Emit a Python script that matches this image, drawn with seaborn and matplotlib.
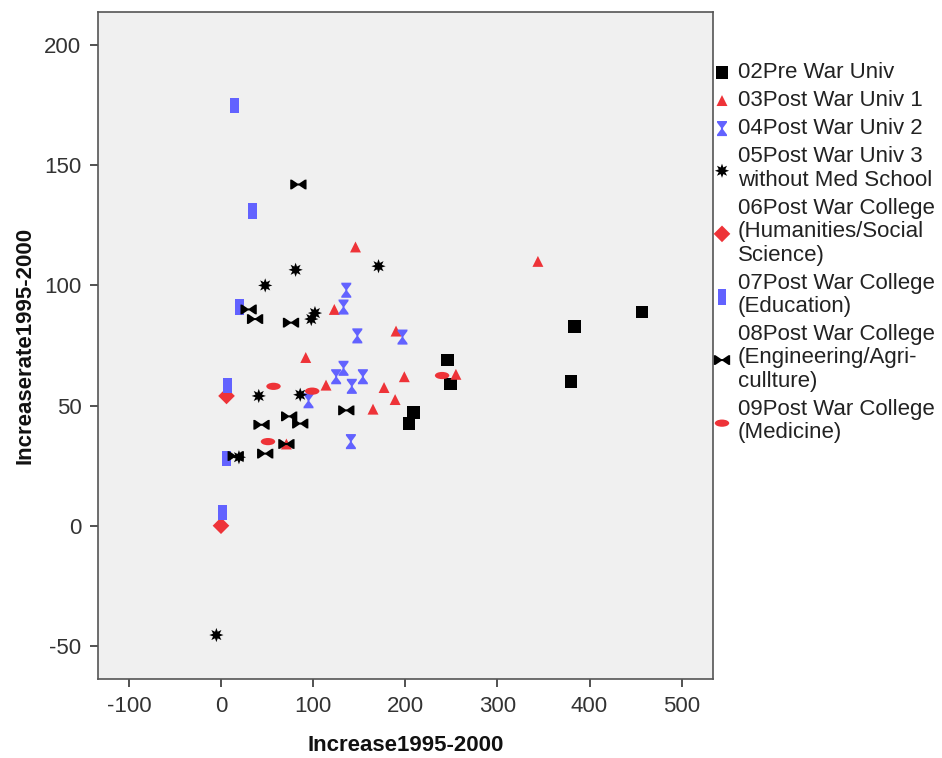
import numpy as np
import pandas as pd
import matplotlib
matplotlib.use("Agg")
import matplotlib.pyplot as plt
import seaborn as sns
from matplotlib.path import Path
from matplotlib.transforms import Affine2D

# ---------------- data ----------------
pre_war_x = [457, 384, 246, 249, 380, 209, 204]
pre_war_y = [89, 83, 69, 59, 60, 47, 42.5]

pw1_x = [344, 146, 123, 190, 92, 199, 177, 189, 114, 165, 255, 71]
pw1_y = [110, 116, 90, 81, 70, 62, 57.5, 52.5, 58.5, 48.5, 63, 34]

pw2_x = [136, 133, 148, 197, 133, 125, 154, 142, 95, 141]
pw2_y = [98, 91, 79, 78.5, 65.5, 62, 62, 58, 52, 35]

pw3_x = [171, 81, 48, 102, 98, 41, 86, 19.5, -5]
pw3_y = [108, 106.5, 100, 88.5, 86, 54, 54.5, 28.5, -45.5]

col_hum_x = [6, 0]
col_hum_y = [54, 0]

col_edu_x = [14.5, 34, 20, 7, 6, 1.5]
col_edu_y = [175, 131, 91, 58.5, 28, 5.5]

col_eng_x = [84, 30, 37, 76, 136, 74, 86, 44, 48, 16, 71]
col_eng_y = [142, 90, 86, 84.5, 48, 45.5, 42.5, 42, 30, 29, 34]

col_med_x = [57, 99, 51, 240]
col_med_y = [58, 56, 35, 62.5]

labels = [
    "02Pre War Univ",
    "03Post War Univ 1",
    "04Post War Univ 2",
    "05Post War Univ 3\nwithout Med School",
    "06Post War College\n(Humanities/Social\nScience)",
    "07Post War College\n(Education)",
    "08Post War College\n(Engineering/Agri-\ncullture)",
    "09Post War College\n(Medicine)",
]
xs = [pre_war_x, pw1_x, pw2_x, pw3_x, col_hum_x, col_edu_x, col_eng_x, col_med_x]
ys = [pre_war_y, pw1_y, pw2_y, pw3_y, col_hum_y, col_edu_y, col_eng_y, col_med_y]

x_ticks = [-100, 0, 100, 200, 300, 400, 500]
y_ticks = [-50, 0, 50, 100, 150, 200]

# ---------------- marker shapes ----------------
hour_verts = [(-0.33, 0.5), (0.33, 0.5), (0.33, 0.4), (0.07, 0.05), (0.07, -0.05),
              (0.33, -0.4), (0.33, -0.5), (-0.33, -0.5), (-0.33, -0.4),
              (-0.07, -0.05), (-0.07, 0.05), (-0.33, 0.4), (-0.33, 0.5)]
hourglass = Path(hour_verts, closed=True)
bow_verts = [(y, x * 0.9) for (x, y) in hour_verts]
bowtie = Path(bow_verts, closed=True)
rect = Path([(-0.28, -0.5), (0.28, -0.5), (0.28, 0.5), (-0.28, 0.5), (-0.28, -0.5)], closed=True)
ellipse = Path.unit_circle().transformed(Affine2D().scale(1.0, 0.5))

RED = "#EE3338"
BLUE = "#6262FF"
BLACK = "#000000"

styles = [
    dict(marker="s", color=BLACK, s=82),
    dict(marker="^", color=RED, s=62),
    dict(marker=hourglass, color=BLUE, s=118),
    dict(marker=(8, 1, 0), color=BLACK, s=105),
    dict(marker="D", color=RED, s=72),
    dict(marker=rect, color=BLUE, s=120),
    dict(marker=bowtie, color=BLACK, s=138),
    dict(marker=ellipse, color=RED, s=108),
]

frames = []
for lab, x, y in zip(labels, xs, ys):
    frames.append(pd.DataFrame({"x": x, "y": y, "group": lab}))
df = pd.concat(frames, ignore_index=True)

# ---------------- figure ----------------
sns.set_theme(style="white")
plt.rcParams["font.family"] = ["Liberation Sans", "DejaVu Sans"]

fig = plt.figure(figsize=(9.42, 7.58), dpi=100)
ax = fig.add_axes([98 / 942, 1 - 679 / 758, (712.5 - 98) / 942, (679 - 11.5) / 758])
ax.set_facecolor("#F0F0F0")

# draw order: later groups sit on top (hidden triangle under a bowtie)
order = [0, 1, 2, 4, 5, 7, 3, 6]
handles = {}
for i in order:
    sub = df[df["group"] == labels[i]]
    st = styles[i]
    sns.scatterplot(data=sub, x="x", y="y", ax=ax, marker=st["marker"],
                    color=st["color"], s=st["s"], linewidth=0, edgecolor="none",
                    label=labels[i], legend=False, zorder=3)
    handles[i] = ax.collections[-1]

ax.set_xlim(-133.5, 533.5)
ax.set_ylim(-63.8, 214)
ax.set_xticks(x_ticks)
ax.set_yticks(y_ticks)
ax.set_xticklabels([str(v) for v in x_ticks])
ax.set_yticklabels([str(v) for v in y_ticks])
ax.tick_params(axis="both", which="major", direction="out", length=6, width=1.2,
               color="#333333", labelsize=16, labelcolor="#333333", pad=6,
               left=True, bottom=True)
for sp in ax.spines.values():
    sp.set_color("#555555")
    sp.set_linewidth(1.2)

ax.set_xlabel("Increase1995-2000", fontsize=16, fontweight="bold", color="#111111", labelpad=13)
ax.set_ylabel("Increaserate1995-2000", fontsize=16, fontweight="bold", color="#111111", labelpad=6)

h = [handles[i] for i in range(len(labels))]
leg = fig.legend(h, labels, loc="upper left", bbox_to_anchor=(702 / 942, 1 - 53.5 / 758),
                 frameon=False, fontsize=16, handletextpad=0.2, labelspacing=0.315,
                 markerscale=1.0, borderaxespad=0, handlelength=1.0)
for t in leg.get_texts():
    t.set_linespacing(1.15)
    t.set_color("#222222")

fig.savefig("out.png", dpi=100, facecolor="white")
